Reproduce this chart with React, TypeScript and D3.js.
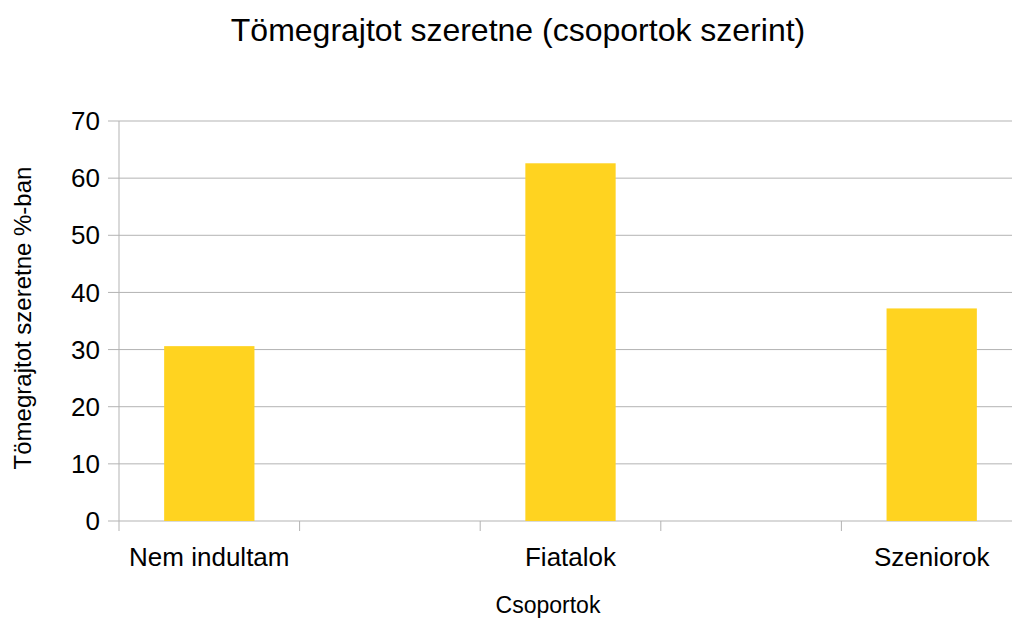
import React from 'react';
import * as d3 from 'd3';

const categories = ['Nem indultam', '', 'Fiatalok', '', 'Szeniorok'];
const values: (number | null)[] = [30.6, null, 62.6, null, 37.2];
const yTicks = [0, 10, 20, 30, 40, 50, 60, 70];

const title = 'Tömegrajtot szeretne (csoportok szerint)';
const xTitle = 'Csoportok';
const yTitle = 'Tömegrajtot szeretne %-ban';

const W = 1012;
const H = 619;
const plot = { left: 119, right: 1022, top: 121, bottom: 521 };
const font = '"Liberation Sans", Arial, sans-serif';
const grid = '#b3b3b3';

const App: React.FC = () => {
  const x = d3.scaleBand<string>()
    .domain(categories.map((_, i) => String(i)))
    .range([plot.left, plot.right])
    .padding(0);
  const y = d3.scaleLinear().domain([0, 70]).range([plot.bottom, plot.top]);
  const bw = x.bandwidth();
  const boundaries = d3.range(categories.length + 1).map(i => plot.left + i * bw);

  return (
    <svg width={W} height={H} style={{ position: 'absolute', left: 0, top: 0, background: '#fff' }}
      fontFamily={font}>
      <rect width={W} height={H} fill="#fff" />
      {/* grid */}
      {yTicks.map(t => (
        <line key={'g' + t} x1={plot.left - 11} x2={plot.right} y1={y(t)} y2={y(t)} stroke={grid} strokeWidth={1} />
      ))}
      {/* y axis */}
      <line x1={plot.left} x2={plot.left} y1={plot.top} y2={plot.bottom} stroke={grid} strokeWidth={1} />
      {/* x ticks */}
      {boundaries.map((b, i) => (
        <line key={'t' + i} x1={b} x2={b} y1={plot.bottom} y2={plot.bottom + 10} stroke={grid} strokeWidth={1} />
      ))}
      {/* bars */}
      {values.map((v, i) => v == null ? null : (
        <rect key={'b' + i} x={(x(String(i)) as number) + bw / 4} width={bw / 2}
          y={y(v)} height={y(0) - y(v)} fill="#ffd320" />
      ))}
      {/* y tick labels */}
      {yTicks.map(t => (
        <text key={'l' + t} x={100} y={y(t)} dy="0.35em" textAnchor="end" fontSize={26} fill="#000">{t}</text>
      ))}
      {/* x labels */}
      {categories.map((c, i) => c ? (
        <text key={'c' + i} x={(x(String(i)) as number) + bw / 2} y={566} textAnchor="middle" fontSize={26} fill="#000">{c}</text>
      ) : null)}
      <text x={518} y={41} textAnchor="middle" fontSize={32} fill="#000">{title}</text>
      <text x={548} y={613} textAnchor="middle" fontSize={23} fill="#000">{xTitle}</text>
      <text transform="translate(31,318) rotate(-90)" textAnchor="middle" fontSize={24} fill="#000">{yTitle}</text>
    </svg>
  );
};

export default App;
